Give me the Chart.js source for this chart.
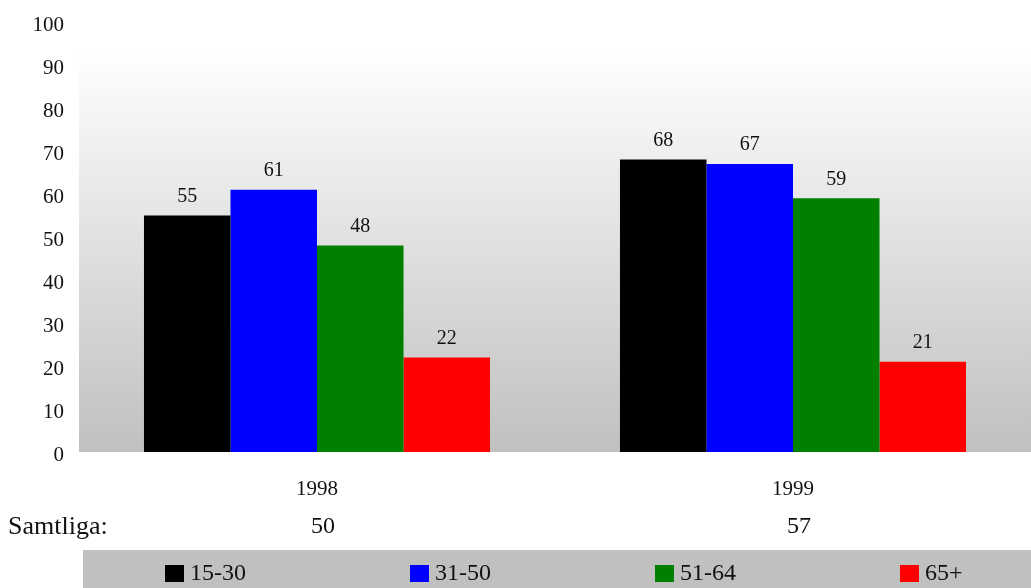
<!DOCTYPE html>
<html>
<head>
<meta charset="utf-8">
<script src="https://cdn.jsdelivr.net/npm/chart.js@4"></script>
<style>
    html, body { margin: 0; padding: 0; background: #fff; }
    #wrap { width: 1031px; height: 588px; position: relative; }
</style>
</head>
<body>
<div id="wrap"><canvas id="chart"></canvas></div>
<script>
// ── data ──
const years = ['1998', '1999'];
const groups = ['15-30', '31-50', '51-64', '65+'];
const colors = ['#000000', '#0000ff', '#008000', '#ff0000'];
const v1530 = [55, 68];
const v3150 = [61, 67];
const v5164 = [48, 59];
const v65 = [22, 21];
const totals = [50, 57];
const totalLabel = 'Samtliga:';
const seriesValues = [v1530, v3150, v5164, v65];

const FONT = '"Liberation Serif", "Times New Roman", serif';

// bakgrund i plottytan (gradient vit -> grå)
const bgPlugin = {
    id: 'bg',
    beforeDraw(chart) {
        const { ctx, chartArea: a } = chart;
        const g = ctx.createLinearGradient(0, 48, 0, a.bottom);
        g.addColorStop(0, '#ffffff');
        g.addColorStop(1, '#c0c0c0');
        ctx.save();
        ctx.fillStyle = g;
        ctx.fillRect(a.left, 0, chart.width - a.left, a.bottom);
        ctx.restore();
    }
};

// värden ovanför staplar + Samtliga-rad + legend
const labelsPlugin = {
    id: 'labels',
    afterDraw(chart) {
        const { ctx } = chart;
        ctx.save();
        ctx.fillStyle = '#111';
        ctx.textAlign = 'center';
        ctx.textBaseline = 'middle';
        ctx.font = '20px ' + FONT;
        chart.data.datasets.forEach((ds, i) => {
            chart.getDatasetMeta(i).data.forEach((bar, j) => {
                ctx.fillText(ds.data[j], bar.x, bar.y - 19);
            });
        });

        // Samtliga
        const xs = chart.scales.x;
        ctx.font = '26px ' + FONT;
        ctx.textAlign = 'left';
        ctx.fillText(totalLabel, 8, 527);
        ctx.font = '24px ' + FONT;
        ctx.textAlign = 'center';
        totals.forEach((t, j) => ctx.fillText(t, xs.getPixelForValue(j) + 6, 527));

        // legend
        ctx.fillStyle = '#c0c0c0';
        ctx.fillRect(83, 550, chart.width - 83, 38);
        ctx.font = '24px ' + FONT;
        ctx.textAlign = 'left';
        chart.data.datasets.forEach((ds, i) => {
            const x = 165 + i * 245;
            ctx.fillStyle = ds.backgroundColor;
            ctx.fillRect(x, 565, 19, 17);
            ctx.fillStyle = '#111';
            ctx.fillText(ds.label, x + 25, 574);
        });
        ctx.restore();
    }
};

new Chart(document.getElementById('chart'), {
    type: 'bar',
    data: {
        labels: years,
        datasets: groups.map((g, i) => ({
            label: g,
            data: seriesValues[i],
            backgroundColor: colors[i],
            borderWidth: 0,
            categoryPercentage: 0.727,
            barPercentage: 1
        }))
    },
    options: {
        responsive: true,
        maintainAspectRatio: false,
        animation: false,
        layout: { padding: { top: 22, right: -8, bottom: 0, left: 0 } },
        plugins: {
            legend: { display: false },
            tooltip: { enabled: false }
        },
        scales: {
            x: {
                grid: { display: false },
                border: { display: false },
                ticks: { color: '#111', font: { family: FONT, size: 21 }, padding: 17 },
                afterFit(s) { s.height = 136; }
            },
            y: {
                min: 0,
                max: 100,
                grid: { display: false },
                border: { display: false },
                ticks: { stepSize: 10, color: '#111', font: { family: FONT, size: 21 }, padding: 7, labelOffset: 3 },
                afterFit(s) {
                    s.width = 79;
                    s.paddingTop = 0;
                    s.paddingBottom = 0;
                }
            }
        }
    },
    plugins: [bgPlugin, labelsPlugin]
});
</script>
</body>
</html>
